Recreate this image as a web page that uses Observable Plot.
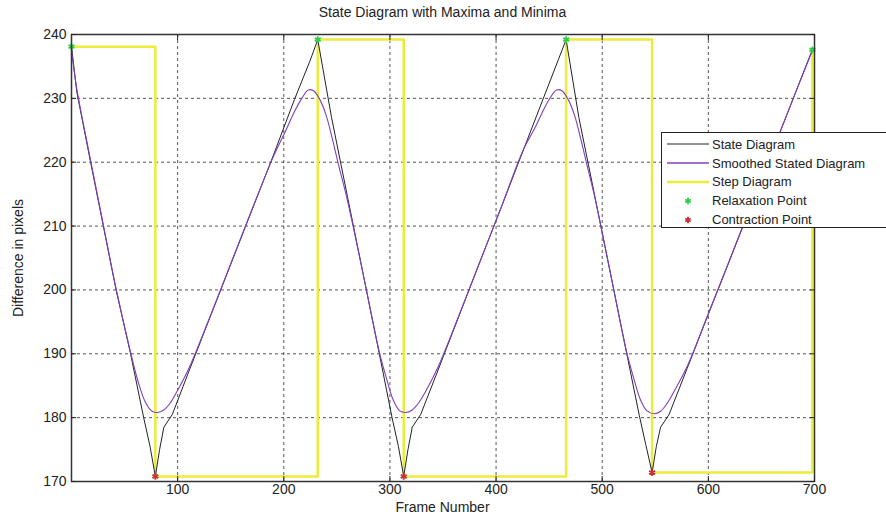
<!DOCTYPE html>
<html><head><meta charset="utf-8">
<script src="https://cdn.jsdelivr.net/npm/d3@7"></script>
<script src="https://cdn.jsdelivr.net/npm/@observablehq/plot@0.6"></script>
<style>
body{margin:0;background:#fff;font-family:"Liberation Sans",Arial,sans-serif;}
#wrap{position:relative;width:886px;height:517px;overflow:hidden;background:#fff;}
#chart{position:absolute;left:0;top:0;}
.ov{position:absolute;color:#222;font-size:14px;white-space:nowrap;}
#title{left:71px;width:743px;top:4px;text-align:center;}
#xlabel{left:71px;width:743px;top:499px;text-align:center;}
#ylabel{left:18px;top:258px;transform:translate(-50%,-50%) rotate(-90deg);}
#legend{position:absolute;left:661px;top:132px;width:240px;height:96px;border:1px solid #222;background:#fff;font-size:13px;color:#222;box-sizing:border-box;padding-top:2px;}
.row{display:flex;align-items:center;height:18.8px;}
.row svg{flex:none;margin-left:5px;margin-right:3px;}
</style></head><body>
<div id="wrap"><div id="chart"></div>
<div id="title" class="ov"></div><div id="xlabel" class="ov"></div><div id="ylabel" class="ov"></div>
<div id="legend"></div></div>
<script>
// ---- data ----
const titleText = "State Diagram with Maxima and Minima";
const xLabelText = "Frame Number";
const yLabelText = "Difference in pixels";
const xTicks = [100, 200, 300, 400, 500, 600, 700];
const yTicks = [170, 180, 190, 200, 210, 220, 230, 240];
const xGrid = [100, 200, 300, 400, 500, 600];
const yGrid = [180, 190, 200, 210, 220, 230];

const stateFrames = [0,5,18,30,42,55,68,74,79,83,87,95,110,130,150,170,190,210,225,232,
  245,260,275,290,302,308,313,317,321,329,345,365,385,405,425,445,459,466,
  478,493,508,523,535,541,547,551,555,563,580,600,620,640,660,680,692,698];
const stateValues = [238.1,231,220,210,200,190.5,180,175.5,170.8,175,178.5,180.5,187,195.5,204,212.5,221,229.8,236,239.2,
  227,214.6,202.3,190,180,175.5,170.8,175,178.5,180.5,187.3,195.9,204.5,213,221.6,230.2,236.2,239.2,
  227,214.7,202.4,190.1,180.3,175.8,171.4,175.5,178.5,180.5,187.7,196.2,204.6,213.1,221.5,230,235.1,237.6];

const smoothFrames = [0,5,18,30,42,55,63,70,76,81,87,93,100,110,130,150,170,190,202,210,217,223,228,234,240,246,252,
  260,275,290,297,303,309,315,321,327,334,345,365,385,405,425,437,445,451,457,462,468,474,480,486,
  493,508,523,530,536,542,549,555,561,568,580,600,620,640,660,680,692,698];
const smoothValues = [237.6,231.5,220.3,210.2,200.2,190.7,185.5,182.3,181,180.8,181.2,182.3,184.3,187.5,195.6,204.1,212.6,220.8,225,227.9,230,231.3,231.2,229.8,227.3,223.5,219.3,
  214,202.3,190.3,186,182.8,181.1,180.8,181.2,182.3,184.2,187.8,196,204.5,213,221.7,225.5,228.3,230.1,231.3,231.2,229.8,227.3,223.5,219.3,
  214.5,202.4,190.3,186,182.8,181.1,180.6,181,182.2,184.2,188,196.3,204.7,213.2,221.6,230,235,237.5];

const stepFrames = [0,79,232,313,466,547,698];
const stepValues = [238.1,170.8,239.2,170.8,239.2,171.4,237.6];

const maxFrames = [0,232,466,698];
const maxValues = [238.1,239.2,239.2,237.6];
const minFrames = [79,313,547];
const minValues = [170.8,170.8,171.4];

const legendLabels = ["State Diagram","Smoothed Stated Diagram","Step Diagram","Relaxation Point","Contraction Point"];

// ---- colors ----
const cState = "#222230", cSmooth = "#8040b8", cStep = "#ecec3a", cMax = "#2fcf4a", cMin = "#c8303a";

const zip = (xs, ys) => xs.map((x, i) => ({x, y: ys[i]}));
const state = zip(stateFrames, stateValues);
const smooth = zip(smoothFrames, smoothValues);
const step = zip(stepFrames, stepValues);
const maxima = zip(maxFrames, maxValues);
const minima = zip(minFrames, minValues);

const gridStyle = {stroke: "#444", strokeOpacity: 0.9, strokeDasharray: "3,3", strokeWidth: 1};

const chart = Plot.plot({
  width: 886, height: 517,
  marginLeft: 71, marginRight: 72, marginTop: 34, marginBottom: 36,
  x: {domain: [0, 700]},
  y: {domain: [170, 240]},
  style: {fontFamily: "Liberation Sans, Arial, sans-serif", fontSize: "14px", color: "#222", background: "white", overflow: "visible"},
  marks: [
    Plot.gridX(xGrid, gridStyle),
    Plot.gridY(yGrid, gridStyle),
    Plot.line(step, {x: "x", y: "y", curve: "step-after", stroke: cStep, strokeWidth: 2.5}),
    Plot.line(state, {x: "x", y: "y", stroke: cState, strokeWidth: 1}),
    Plot.line(smooth, {x: "x", y: "y", stroke: cSmooth, strokeWidth: 1.1, curve: "catmull-rom"}),
    Plot.dot(maxima, {x: "x", y: "y", symbol: "asterisk", stroke: cMax, r: 3.2, strokeWidth: 1.8}),
    Plot.dot(minima, {x: "x", y: "y", symbol: "asterisk", stroke: cMin, r: 3.2, strokeWidth: 1.8}),
    Plot.frame({stroke: "#333", strokeWidth: 1.5}),
    Plot.axisX(xTicks, {anchor: "bottom", tickSize: -5, tickPadding: 8, label: null}),
    Plot.axisX(xTicks, {anchor: "top", tickSize: -5, tickFormat: () => "", label: null}),
    Plot.axisY(yTicks, {anchor: "left", tickSize: -5, tickPadding: 10, label: null}),
    Plot.axisY(yTicks, {anchor: "right", tickSize: -5, tickFormat: () => "", label: null})
  ]
});
document.getElementById("chart").appendChild(chart);
document.getElementById("title").textContent = titleText;
document.getElementById("xlabel").textContent = xLabelText;
document.getElementById("ylabel").textContent = yLabelText;

// legend
const legend = document.getElementById("legend");
const kinds = ["line","line","line","dot","dot"];
const lcolors = [cState, cSmooth, cStep, cMax, cMin];
const lwidths = [1, 1.3, 2.5, 1.8, 1.8];
legendLabels.forEach((lab, i) => {
  const row = document.createElement("div");
  row.className = "row";
  const svg = d3.create("svg").attr("width", 42).attr("height", 12);
  if (kinds[i] === "line") {
    svg.append("line").attr("x1", 0).attr("x2", 42).attr("y1", 6).attr("y2", 6)
      .attr("stroke", lcolors[i]).attr("stroke-width", lwidths[i]);
  } else {
    svg.append("path").attr("transform", "translate(21,6)")
      .attr("d", d3.symbol(d3.symbolAsterisk, 28)())
      .attr("stroke", lcolors[i]).attr("stroke-width", lwidths[i]).attr("fill", "none");
  }
  row.appendChild(svg.node());
  const span = document.createElement("span");
  span.textContent = lab;
  row.appendChild(span);
  legend.appendChild(row);
});
</script>
</body></html>
